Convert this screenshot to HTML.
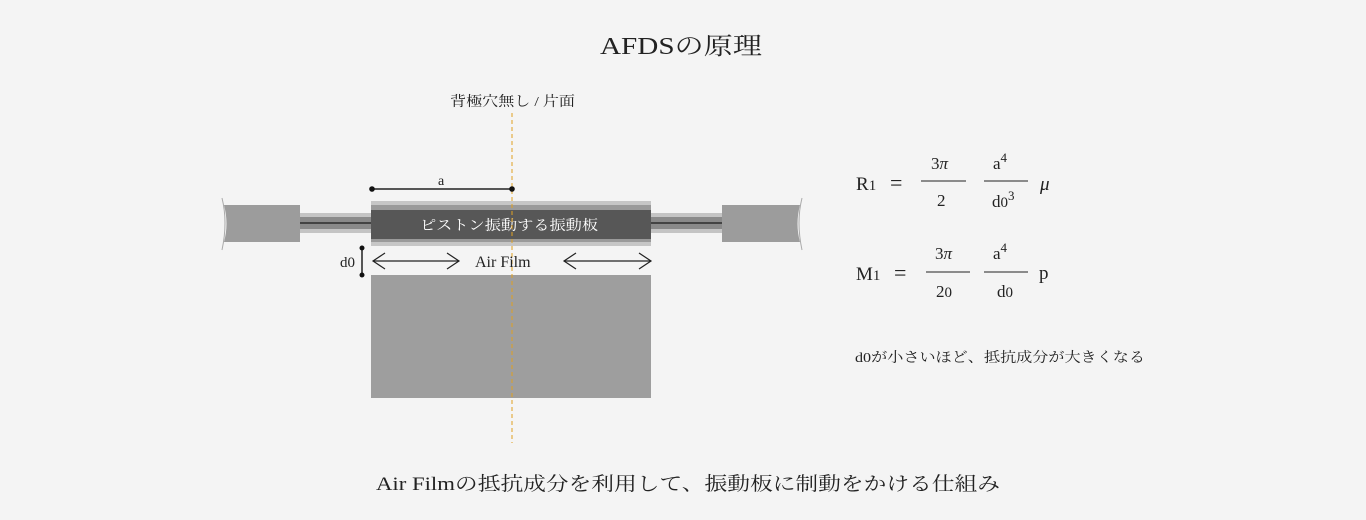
<!DOCTYPE html>
<html><head><meta charset="utf-8"><style>
html,body{margin:0;padding:0;background:#f4f4f4;}
svg{display:block;}
text{font-family:"Liberation Serif","Noto Serif CJK JP",serif;fill:#222;}
</style></head><body>
<svg width="1366" height="520" viewBox="0 0 1366 520" xmlns="http://www.w3.org/2000/svg">
<rect width="1366" height="520" fill="#f4f4f4"/>
<text x="600" y="54" font-size="24" textLength="162" lengthAdjust="spacingAndGlyphs">AFDSの原理</text>
<text x="450" y="106" font-size="14" textLength="125" lengthAdjust="spacingAndGlyphs">背極穴無し / 片面</text>
<path d="M224 205 L300 205 L300 242 L224 242 Q229 224 224 205 Z" fill="#9c9c9c"/>
<path d="M222 198 Q228 222 222 250" fill="none" stroke="#aaa" stroke-width="1"/>
<path d="M722 205 L800 205 Q795 224 800 242 L722 242 Z" fill="#9c9c9c"/>
<path d="M802 198 Q796 222 802 250" fill="none" stroke="#aaa" stroke-width="1"/>
<rect x="300" y="213" width="72" height="20" fill="#c4c4c4"/>
<rect x="300" y="217" width="72" height="12" fill="#8a8a8a"/>
<rect x="300" y="222" width="72" height="2" fill="#444"/>
<rect x="651" y="213" width="71" height="20" fill="#c4c4c4"/>
<rect x="651" y="217" width="71" height="12" fill="#8a8a8a"/>
<rect x="651" y="222" width="71" height="2" fill="#444"/>
<rect x="371" y="201" width="280" height="45" fill="#c6c6c6"/>
<rect x="371" y="205" width="280" height="37" fill="#9a9a9a"/>
<rect x="371" y="210" width="280" height="29" fill="#575757"/>
<text x="420" y="230" font-size="14" style="fill:#fff" textLength="178" lengthAdjust="spacingAndGlyphs">ピストン振動する振動板</text>
<rect x="371" y="275" width="280" height="123" fill="#9e9e9e"/>
<line x1="512" y1="113" x2="512" y2="443" stroke="#e0a020" stroke-width="1" stroke-dasharray="4,3"/>
<line x1="372" y1="189" x2="512" y2="189" stroke="#222" stroke-width="1.5"/>
<circle cx="372" cy="189" r="2.8" fill="#111"/><circle cx="512" cy="189" r="2.8" fill="#111"/>
<text x="438" y="185" font-size="14">a</text>
<line x1="362" y1="248" x2="362" y2="275" stroke="#222" stroke-width="1.5"/>
<circle cx="362" cy="248" r="2.5" fill="#111"/><circle cx="362" cy="275" r="2.5" fill="#111"/>
<text x="340" y="267" font-size="15">d0</text>
<g stroke="#222" stroke-width="1.2" fill="none">
<line x1="373" y1="261" x2="459" y2="261"/><polyline points="385,253 373,261 385,269"/><polyline points="447,253 459,261 447,269"/>
<line x1="564" y1="261" x2="651" y2="261"/><polyline points="576,253 564,261 576,269"/><polyline points="639,253 651,261 639,269"/>
</g>
<text x="475" y="267" font-size="16">Air Film</text>
<g font-size="19">
<text x="856" y="190">R<tspan font-size="15">1</tspan></text>
<text x="890" y="190" font-size="22">=</text>
<text x="931" y="169" font-size="17">3<tspan font-style="italic">π</tspan></text>
<line x1="921" y1="181" x2="966" y2="181" stroke="#222" stroke-width="1"/>
<text x="937" y="206" font-size="17">2</text>
<text x="993" y="169" font-size="17">a<tspan font-size="13" dy="-7">4</tspan></text>
<line x1="984" y1="181" x2="1028" y2="181" stroke="#222" stroke-width="1"/>
<text x="992" y="207" font-size="17">d<tspan font-size="15">0</tspan><tspan font-size="13" dy="-7">3</tspan></text>
<text x="1040" y="190" font-style="italic">μ</text>
<text x="856" y="280">M<tspan font-size="15">1</tspan></text>
<text x="894" y="280" font-size="22">=</text>
<text x="935" y="259" font-size="17">3<tspan font-style="italic">π</tspan></text>
<line x1="926" y1="272" x2="970" y2="272" stroke="#222" stroke-width="1"/>
<text x="936" y="297" font-size="17">2<tspan font-size="15">0</tspan></text>
<text x="993" y="259" font-size="17">a<tspan font-size="13" dy="-7">4</tspan></text>
<line x1="984" y1="272" x2="1028" y2="272" stroke="#222" stroke-width="1"/>
<text x="997" y="297" font-size="17">d<tspan font-size="15">0</tspan></text>
<text x="1039" y="279">p</text>
</g>
<text x="855" y="362" font-size="14" textLength="290" lengthAdjust="spacingAndGlyphs">d0が小さいほど、抵抗成分が大きくなる</text>
<text x="376" y="490" font-size="19" textLength="624" lengthAdjust="spacingAndGlyphs">Air Filmの抵抗成分を利用して、振動板に制動をかける仕組み</text>
</svg>
</body></html>
